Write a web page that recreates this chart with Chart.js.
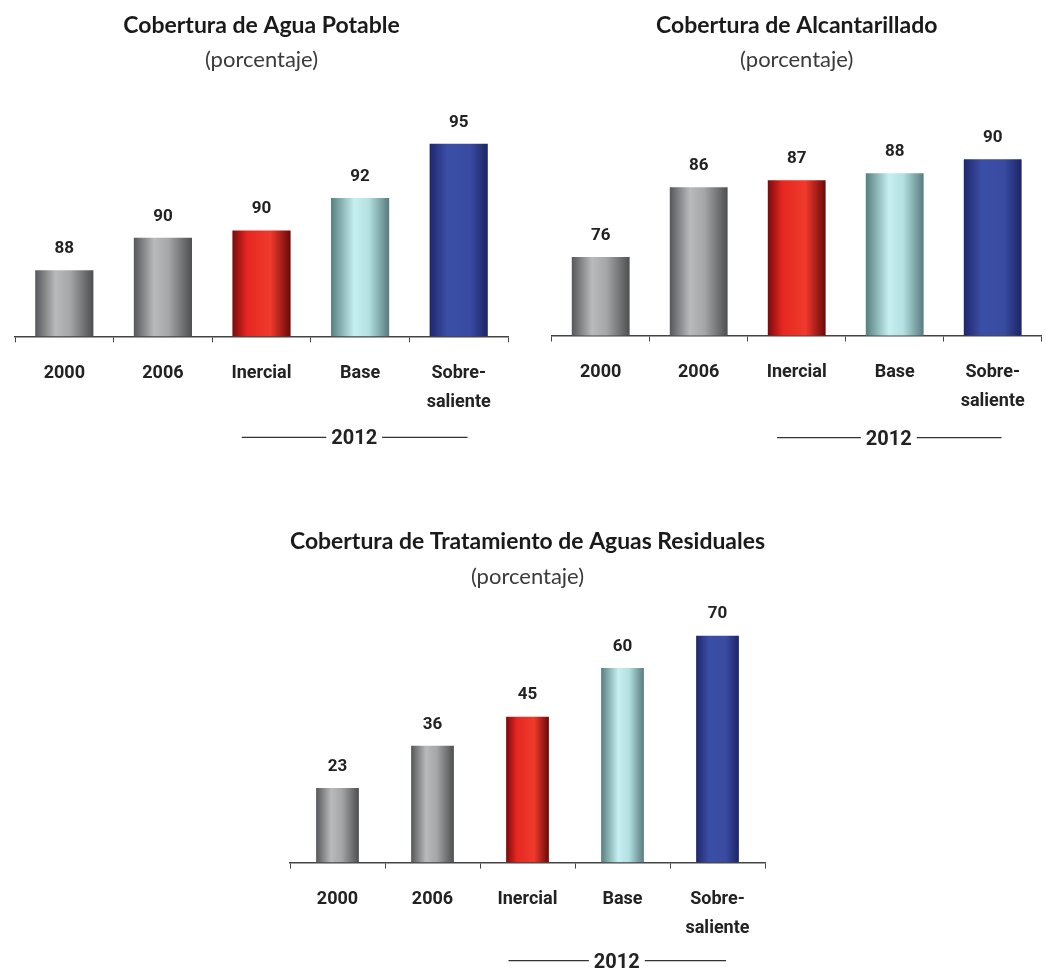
<!DOCTYPE html>
<html>
<head>
<meta charset="utf-8">
<title>Cobertura</title>
<script src="https://cdn.jsdelivr.net/npm/chart.js@4.4.1/dist/chart.umd.min.js"></script>
<style>
  body { margin: 0; background: #fff; }
  .box { position: absolute; }
</style>
</head>
<body>
<div class="box" style="left:0px;top:0px;width:523px;height:470px"><canvas id="agua"></canvas></div>
<div class="box" style="left:523px;top:0px;width:523px;height:470px"><canvas id="alcantarillado"></canvas></div>
<div class="box" style="left:270px;top:500px;width:520px;height:477px"><canvas id="tratamiento"></canvas></div>
<script>
// categorias (las tres ultimas son escenarios 2012)
var categories = ['2000', '2006', 'Inercial', 'Base', ['Sobre-', 'saliente']];
var groupLabel = '2012';

var aguaPotable = [88, 89.8, 90.2, 92, 95];
var alcantarillado = [76, 86, 87, 88, 90];
var tratamiento = [23, 36, 45, 60, 70];

var narrow = "Roboto, 'Liberation Sans Narrow', 'DejaVu Sans Condensed', sans-serif";
var titleFont = "Lato, 'Open Sans', sans-serif";

// gradientes tipo cilindro: gris, gris, rojo, celeste, azul
var barStops = [
  [[0, '#55575a'], [0.35, '#b8babc'], [0.6, '#a4a6a8'], [1, '#4c4e50']],
  [[0, '#55575a'], [0.35, '#b8babc'], [0.6, '#a4a6a8'], [1, '#4c4e50']],
  [[0, '#7a0b0d'], [0.25, '#e52720'], [0.65, '#f03a2c'], [1, '#6a0909']],
  [[0, '#56807f'], [0.4, '#c6eff1'], [0.65, '#b3e0e2'], [1, '#587c7e']],
  [[0, '#1f276b'], [0.3, '#3b4ea6'], [0.7, '#394ba1'], [1, '#1c2463']]
];

function barFill(ratio) {
  return function(c) {
    var chart = c.chart;
    var xs = chart.scales.x;
    if (!chart.chartArea || !xs) return '#999';
    var step = xs.width / categories.length;
    var cx = xs.getPixelForValue(c.dataIndex);
    var w = step * ratio;
    var g = chart.ctx.createLinearGradient(cx - w / 2, 0, cx + w / 2, 0);
    barStops[c.dataIndex].forEach(function(s) { g.addColorStop(s[0], s[1]); });
    return g;
  };
}

var extras = {
  id: 'extras',
  afterDatasetsDraw: function(chart) {
    var ctx = chart.ctx;
    var meta = chart.getDatasetMeta(0);
    var vals = chart.data.datasets[0].data;
    ctx.save();
    ctx.fillStyle = '#222';
    ctx.textAlign = 'center';
    ctx.textBaseline = 'middle';
    ctx.font = 'bold 17px ' + narrow;
    meta.data.forEach(function(bar, i) {
      ctx.fillText(Math.round(vals[i]), bar.x, bar.y - 21.5);
    });

    // linea "2012" bajo los escenarios
    var xs = chart.scales.x;
    var step = xs.getPixelForValue(1) - xs.getPixelForValue(0);
    var y = chart.chartArea.bottom + chart.options.plugins.extras.offset;
    var left = xs.getPixelForValue(2) - step * 0.2;
    var right = xs.getPixelForValue(4) + step * 0.09;
    var mid = xs.getPixelForValue(3) - step * 0.06;
    ctx.font = 'bold 20px ' + narrow;
    var half = ctx.measureText(groupLabel).width / 2 + 5;
    ctx.strokeStyle = '#333';
    ctx.lineWidth = 1.2;
    ctx.beginPath();
    ctx.moveTo(left, y);
    ctx.lineTo(mid - half, y);
    ctx.moveTo(mid + half, y);
    ctx.lineTo(right, y);
    ctx.stroke();
    ctx.fillText(groupLabel, mid, y + 2);
    ctx.restore();
  }
};

function makeChart(id, title, values, o) {
  return new Chart(document.getElementById(id), {
    type: 'bar',
    data: {
      labels: categories,
      datasets: [{
        data: values,
        backgroundColor: barFill(o.ratio),
        categoryPercentage: 1,
        barPercentage: o.ratio,
        borderWidth: 0
      }]
    },
    options: {
      responsive: true,
      maintainAspectRatio: false,
      animation: false,
      events: [],
      layout: { padding: { left: o.left, right: o.right, top: 0, bottom: o.bottom } },
      plugins: {
        legend: { display: false },
        tooltip: { enabled: false },
        extras: { offset: o.bracket },
        title: {
          display: true,
          text: title,
          color: '#1a1a1a',
          font: { family: titleFont, size: 23, weight: 'bold', lineHeight: 1.2 },
          padding: { top: o.titleTop, bottom: 0 }
        },
        subtitle: {
          display: true,
          text: '(porcentaje)',
          color: '#3a3a3a',
          font: { family: titleFont, size: 22, weight: 'normal', lineHeight: 1.2 },
          padding: { top: o.subTop, bottom: o.subBottom }
        }
      },
      scales: {
        x: {
          grid: { display: true, drawOnChartArea: false, drawTicks: true, tickLength: 6, color: '#444', lineWidth: 1 },
          border: { display: true, color: '#444', width: 1.5 },
          ticks: {
            color: '#222',
            padding: 16.5,
            font: { family: narrow, size: 18, weight: 'bold', lineHeight: 1.61 }
          }
        },
        y: { display: false, min: o.min, max: o.max }
      }
    },
    plugins: [extras]
  });
}

makeChart('agua', 'Cobertura de Agua Potable', aguaPotable,
  { left: 15, right: 15, bottom: 36.7, min: 84.34, max: 97.43, ratio: 0.59, titleTop: 12.2, subTop: 7, subBottom: 26.8, bracket: 101 });
makeChart('alcantarillado', 'Cobertura de Alcantarillado', alcantarillado,
  { left: 28.7, right: 4.3, bottom: 37.5, min: 64.75, max: 98.51, ratio: 0.59, titleTop: 12.2, subTop: 7, subBottom: 26.8, bracket: 102 });
makeChart('tratamiento', 'Cobertura de Tratamiento de Aguas Residuales', tratamiento,
  { left: 20, right: 25, bottom: 17.5, min: 0, max: 81, ratio: 0.45, titleTop: 28.2, subTop: 8, subBottom: 9.8, bracket: 98 });
</script>
</body>
</html>
